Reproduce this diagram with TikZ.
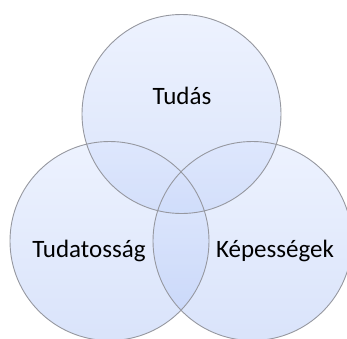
\documentclass[tikz,border=0pt]{standalone}
\usepackage{fontspec}
\setmainfont{Carlito}
\definecolor{ringtop}{RGB}{220,230,254}
\definecolor{ringbot}{RGB}{180,200,246}
\definecolor{ringline}{RGB}{150,152,160}
\tikzset{
  ring/.style={top color=ringtop, bottom color=ringbot, fill opacity=0.5, draw=none},
  ringedge/.style={draw=ringline, line width=0.9pt},
  label/.style={font=\fontsize{25}{30}\selectfont, anchor=base, text=black, inner sep=0pt}
}
\begin{document}
\begin{tikzpicture}[x=1pt,y=-1pt]
  \useasboundingbox (0,0) rectangle (347,338);
  \clip (0,0) rectangle (347,338);
  \coordinate (ctop) at (181.5,114);
  \coordinate (cleft) at (109.5,241);
  \coordinate (cright) at (252.5,241);
  % translucent filled discs
  \foreach \c in {ctop,cleft,cright}
    \shade[ring] (\c) circle (99.5);
  % outlines on top
  \foreach \c in {ctop,cleft,cright}
    \draw[ringedge] (\c) circle (99.5);
  % labels
  \node[label] (tudas) at (182,104) {Tudás};
  \node[label] (tudatossag) at (89,257) {Tudatosság};
  \node[label] (kepessegek) at (275,257) {Képességek};
\end{tikzpicture}
\end{document}
